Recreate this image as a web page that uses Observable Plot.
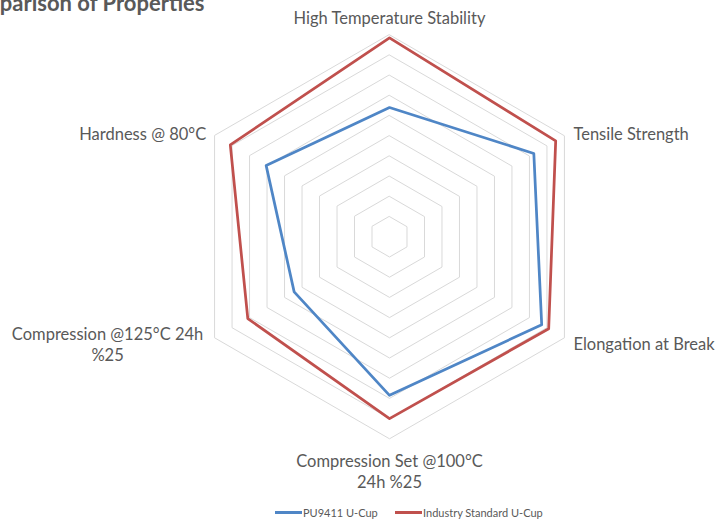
<!DOCTYPE html>
<html>
<head>
<meta charset="utf-8">
<script src="https://cdn.jsdelivr.net/npm/d3@7"></script>
<script src="https://cdn.jsdelivr.net/npm/@observablehq/plot@0.6"></script>
<style>
  html, body { margin: 0; padding: 0; background: #fff; }
  #wrap { position: relative; width: 722px; height: 522px; overflow: hidden; font-family: Lato, sans-serif; }
  .item { position: absolute; top: 506px; display: flex; align-items: center; font-size: 11px; color: #595959; }
  .sw { width: 27px; height: 3px; margin-right: 1px; }
</style>
</head>
<body>
<div id="wrap"><div id="chart"></div></div>
<script>
const categories = [
  "High Temperature Stability",
  "Tensile Strength",
  "Elongation at Break",
  "Compression Set @100°C\n24h %25",
  "Compression @125°C 24h\n%25",
  "Hardness @ 80°C"
];
const seriesNames = ["PU9411 U-Cup", "Industry Standard U-Cup"];
const puValues = [6.4, 8.25, 8.7, 7.85, 5.45, 7.05];
const industryValues = [9.85, 9.5, 9.1, 9.0, 8.1, 9.1];
const ringTicks = [1, 2, 3, 4, 5, 6, 7, 8, 9, 10];
const colors = ["#4F86C6", "#C0504D"];

const n = categories.length;
const ang = i => (i * 2 * Math.PI) / n;
const px = (r, i) => r * Math.sin(ang(i));
const py = (r, i) => r * Math.cos(ang(i));

const rings = ringTicks.flatMap(k => categories.map((c, i) => ({k, x: px(k, i), y: py(k, i)})));
const series = [puValues, industryValues].flatMap((vals, s) =>
  vals.map((v, i) => ({s: seriesNames[s], x: px(v, i), y: py(v, i)})));

const maxR = ringTicks[ringTicks.length - 1];
const labelStyle = [
  {anchor: "middle", dx: 0, dy: -17},
  {anchor: "start", dx: 9, dy: -2},
  {anchor: "start", dx: 9, dy: 6},
  {anchor: "middle", dx: 0, dy: 32},
  {anchor: "middle", dx: -107, dy: 6},
  {anchor: "end", dx: -8.4, dy: -2}
];
const labels = categories.map((c, i) => ({text: c, x: px(maxR, i), y: py(maxR, i), ...labelStyle[i]}));

const unit = 20.2, cx = 389, cy = 236.3, W = 722, H = 502;
const chart = Plot.plot({
  width: W, height: H,
  margin: 0,
  style: {fontFamily: "Lato, sans-serif", background: "white"},
  x: {domain: [-cx / unit, (W - cx) / unit], range: [0, W], axis: null},
  y: {domain: [(cy - H) / unit, cy / unit], range: [H, 0], axis: null},
  color: {domain: seriesNames, range: colors},
  marks: [
    Plot.line(rings, {x: "x", y: "y", z: "k", curve: "linear-closed", stroke: "#D9D9D9", strokeWidth: 1}),
    Plot.line(series, {x: "x", y: "y", z: "s", stroke: "s", curve: "linear-closed", strokeWidth: 2.75, strokeLinejoin: "round"}),
    ...labels.map(l => Plot.text([l], {x: "x", y: "y", text: "text", textAnchor: l.anchor, dx: l.dx, dy: l.dy,
      lineAnchor: "middle", lineHeight: 1.25, fontSize: 16.5, fill: "#595959"})),
    Plot.text(["Comparison of Properties"], {frameAnchor: "top-left", dx: 204, dy: 10, textAnchor: "end",
      lineAnchor: "bottom", fontSize: 22, fontWeight: "bold", fill: "#595959"})
  ]
});
const wrap = document.getElementById("wrap");
document.getElementById("chart").appendChild(chart);

const legendLeft = [275, 395];
seriesNames.forEach((name, i) => {
  const it = document.createElement("div");
  it.className = "item";
  it.style.left = legendLeft[i] + "px";
  const sw = document.createElement("div");
  sw.className = "sw";
  sw.style.background = colors[i];
  const t = document.createElement("span");
  t.textContent = name;
  it.appendChild(sw); it.appendChild(t);
  wrap.appendChild(it);
});
</script>
</body>
</html>
